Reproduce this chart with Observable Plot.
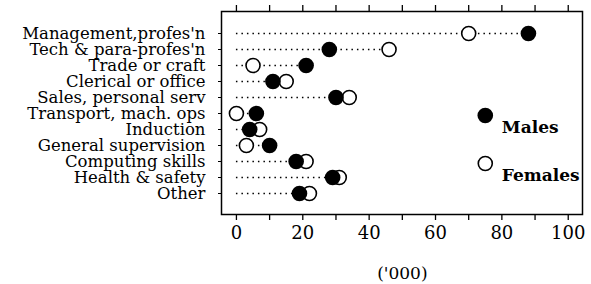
<!DOCTYPE html>
<html>
<head>
<meta charset="utf-8">
<script src="https://cdn.jsdelivr.net/npm/d3@7"></script>
<script src="https://cdn.jsdelivr.net/npm/@observablehq/plot@0.6"></script>
<style>
  html, body { margin: 0; padding: 0; background: white; }
</style>
</head>
<body>
<div id="chart"></div>
<script>
const categories = [
  "Management,profes'n",
  "Tech & para-profes'n",
  "Trade or craft",
  "Clerical or office",
  "Sales, personal serv",
  "Transport, mach. ops",
  "Induction",
  "General supervision",
  "Computing skills",
  "Health & safety",
  "Other"
];
const males   = [88, 28, 21, 11, 30, 6, 4, 10, 18, 29, 19];
const females = [70, 46, 5, 15, 34, 0, 7, 3, 21, 31, 22];
const xTicks = [0, 10, 20, 30, 40, 50, 60, 70, 80, 90, 100];
const legendLabels = ["Males", "Females"];
const axisTitle = "('000)";

const rows = categories.map((c, i) => ({cat: c, m: males[i], f: females[i]}));

const chart = Plot.plot({
  width: 591,
  height: 284,
  marginLeft: 221,
  marginRight: 9,
  marginTop: 11,
  marginBottom: 70,
  style: {fontFamily: "'DejaVu Serif', serif", background: "white", color: "black"},
  x: {domain: [-4.5, 104.3]},
  y: {domain: categories, type: "point", padding: 1},
  marks: [
    Plot.ruleY(rows, {y: "cat", x1: 0, x2: d => Math.max(d.m, d.f), stroke: "black", strokeWidth: 1.4, strokeDasharray: "1.5,4"}),
    Plot.dot(rows, {x: "f", y: "cat", r: 7, fill: "white", stroke: "black", strokeWidth: 1.6}),
    Plot.dot(rows, {x: "m", y: "cat", r: 7.8, fill: "black", stroke: "none"}),
    Plot.frame({stroke: "black", strokeWidth: 1.5}),
    Plot.axisX({anchor: "bottom", ticks: xTicks, tickFormat: d => d % 20 === 0 ? String(d) : "", tickSize: 6, tickPadding: 6, fontSize: 18, label: null, strokeWidth: 1.3}),
    Plot.axisX({anchor: "top", ticks: xTicks, tickFormat: () => "", tickSize: 7, label: null, strokeWidth: 1.3}),
    Plot.axisY({anchor: "left", tickSize: 3, tickPadding: 13, fontSize: 16.5, label: null}),
    // legend
    Plot.dot([legendLabels[0]], {x: () => 75, frameAnchor: "top", dy: 104, r: 7.8, fill: "black"}),
    Plot.dot([legendLabels[1]], {x: () => 75, frameAnchor: "top", dy: 152, r: 7, fill: "white", stroke: "black", strokeWidth: 1.6}),
    Plot.text([legendLabels[0]], {x: () => 80, text: d => d, frameAnchor: "top", lineAnchor: "middle", dy: 116, textAnchor: "start", fontSize: 17, fontWeight: "bold", fill: "black"}),
    Plot.text([legendLabels[1]], {x: () => 80, text: d => d, frameAnchor: "top", lineAnchor: "middle", dy: 164, textAnchor: "start", fontSize: 17, fontWeight: "bold", fill: "black"}),
    // axis title
    Plot.text([axisTitle], {x: () => 50, text: d => d, frameAnchor: "bottom", lineAnchor: "middle", dy: 59, fontSize: 17, fill: "black"})
  ]
});
document.getElementById("chart").appendChild(chart);
</script>
</body>
</html>
